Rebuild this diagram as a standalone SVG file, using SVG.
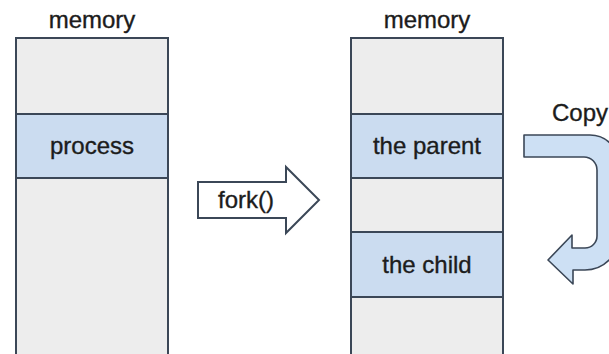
<svg xmlns="http://www.w3.org/2000/svg" width="609" height="354" viewBox="0 0 609 354">
  <style>
    .frame { fill: #ededed; stroke: #3b4757; stroke-width: 2; }
    .band { fill: #cbdcf0; stroke: #3b4757; stroke-width: 2; }
    .label { font-family: "Liberation Sans", Arial, sans-serif; font-size: 24px; fill: #1c1c1c; stroke: #1c1c1c; stroke-width: 0.35; text-anchor: middle; }
    .fork { fill: #ffffff; stroke: #3b4757; stroke-width: 2; stroke-linejoin: miter; }
    .copy { fill: #cde0f4; stroke: #3b4757; stroke-width: 1.6; stroke-linejoin: round; }
  </style>

  <rect width="609" height="354" fill="#ffffff"/>

  <!-- memory before fork -->
  <g id="memory-before">
    <rect class="frame" x="16" y="38" width="152" height="320"/>
    <text class="label" x="92" y="28">memory</text>
  </g>
  <g id="process">
    <rect class="band" x="16" y="114" width="152" height="64"/>
    <text class="label" x="92" y="154">process</text>
  </g>

  <!-- memory after fork -->
  <g id="memory-after">
    <rect class="frame" x="351" y="38" width="152" height="320"/>
    <text class="label" x="427" y="28">memory</text>
  </g>
  <g id="parent">
    <rect class="band" x="351" y="114" width="152" height="64"/>
    <text class="label" x="427" y="154">the parent</text>
  </g>
  <g id="child">
    <rect class="band" x="351" y="232" width="152" height="65"/>
    <text class="label" x="427" y="273">the child</text>
  </g>

  <!-- arrows -->
  <g id="connectors">
    <g id="fork-arrow">
      <polygon class="fork" points="198,182 286,182 286,167 319,200 286,233 286,218 198,218"/>
      <text class="label" x="246" y="208">fork()</text>
    </g>
    <g id="copy-arrow">
      <path class="copy" d="M524 135 H590 A29 29 0 0 1 619 164 V236 A34 34 0 0 1 585 270 H573 V284 L548 260 L572 235 V248 H585 A12 12 0 0 0 597 236 V170 A13 13 0 0 0 584 157 H524 Z"/>
      <text class="label" x="580" y="121">Copy</text>
    </g>
  </g>
</svg>
